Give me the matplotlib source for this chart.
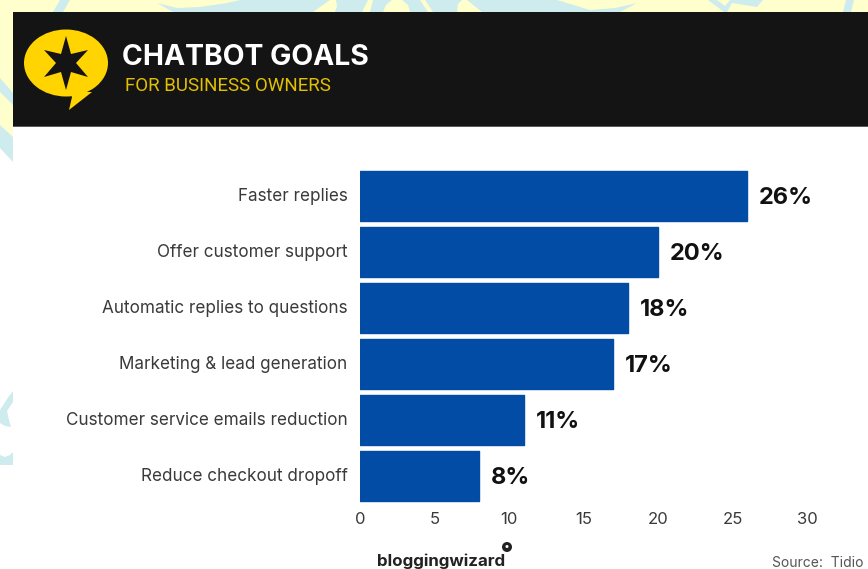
import matplotlib
matplotlib.use("Agg")
import matplotlib.pyplot as plt
from matplotlib.patches import Ellipse, Polygon, Rectangle, Circle
from matplotlib.transforms import ScaledTranslation

categorias = [
    "Faster replies",
    "Offer customer support",
    "Automatic replies to questions",
    "Marketing & lead generation",
    "Customer service emails reduction",
    "Reduce checkout dropoff",
]
valores = [26, 20, 18, 17, 11, 8]
rotulos = ["26%", "20%", "18%", "17%", "11%", "8%"]
ticks_x = [0, 5, 10, 15, 20, 25, 30]

LARGURA, ALTURA = 868, 569
AZUL = "#034CA6"
AMARELO = "#FFD400"
CIANO = "#CEEBEE"
CREME = "#FFFFCE"
ESCURO = "#141414"
TEXTO = "#3A3A3A"
FONTE = ["Inter", "DejaVu Sans"]

fig = plt.figure(figsize=(LARGURA / 100, ALTURA / 100), dpi=100, facecolor="white")

# camada de fundo em coordenadas de pixel
bg = fig.add_axes([0, 0, 1, 1])
bg.set_xlim(0, LARGURA)
bg.set_ylim(ALTURA, 0)
bg.axis("off")

# faixa creme em cima e na esquerda
bg.add_patch(Rectangle((0, 0), LARGURA, 12, color=CREME, lw=0))
bg.add_patch(Polygon([(0, 0), (13, 0), (13, 137), (0, 125)], closed=True, color=CREME, lw=0))

formas_ciano = [
    [(53, 12), (60, 0), (70, 0), (63, 12)],
    [(157, 3), (173, 12), (620, 12), (637, 3), (615, 8), (590, 10), (557, 0),
     (240, 0), (227, 3), (200, 7), (177, 8)],
    [(708, 0), (717, 0), (725, 6), (730, 0), (763, 0), (757, 7), (732, 3), (727, 12), (724, 12)],
    [(843, 12), (846, 0), (854, 0), (851, 12)],
    [(0, 78), (13, 93), (13, 105), (0, 92)],
    [(0, 125), (13, 137), (13, 162), (0, 148)],
    [(13, 391), (7, 399), (0, 410), (0, 423), (5, 426), (11, 427), (9, 420), (7, 411), (13, 402)],
    [(0, 455), (5, 457), (10, 455), (13, 452), (13, 465), (0, 465)],
]
for forma in formas_ciano:
    bg.add_patch(Polygon(forma, closed=True, color=CIANO, lw=0))

# recortes creme por cima do ciano
formas_creme = [
    [(313, 12), (330, 0), (336, 0), (337, 6), (335, 12)],
    [(362, 12), (368, 0), (373, 0), (370, 12)],
    [(383, 12), (386, 5), (392, 0), (402, 0), (408, 5), (410, 12)],
    [(420, 0), (425, 0), (433, 12), (428, 12)],
    [(457, 12), (458, 4), (462, 0), (467, 0), (482, 12)],
]
for forma in formas_creme:
    bg.add_patch(Polygon(forma, closed=True, color=CREME, lw=0))

# cabecalho
bg.add_patch(Rectangle((13, 12), LARGURA - 13, 114, color=ESCURO, lw=0))
bg.add_patch(Rectangle((13, 126), LARGURA - 13, 1, color="#5A5A5A", lw=0))

# logo: balao com estrela
bg.add_patch(Ellipse((66, 63), 84, 67, color=AMARELO, lw=0))
bg.add_patch(Polygon([(70, 92), (72, 97), (69, 110), (92, 92)], closed=True, color=AMARELO, lw=0))
estrela = [
    (66, 36), (71, 54), (88, 50), (76, 63), (88, 77), (71, 72),
    (66, 90), (61, 72), (44, 77), (56, 63), (44, 50), (61, 54),
]
bg.add_patch(Polygon(estrela, closed=True, color=ESCURO, lw=0))

bg.text(122, 57, "CHATBOT GOALS", color="white", fontsize=20.4, fontweight="bold",
        family=FONTE, va="center", ha="left")
bg.text(125, 86, "FOR BUSINESS OWNERS", color="#E3C000", fontsize=13.5,
        family=["Roboto", "DejaVu Sans"], va="center", ha="left")

# grafico de barras
ax = fig.add_axes([360 / LARGURA, 1 - 504 / ALTURA, 447 / LARGURA, 336 / ALTURA])
ax.patch.set_alpha(0)
posicoes = list(range(len(categorias)))
ax.barh(posicoes, valores, height=0.89, color=AZUL, edgecolor=AZUL, linewidth=1, joinstyle="round")
ax.set_xlim(0, 30)
ax.set_ylim(len(categorias) - 0.5, -0.5)
ax.set_xticks(ticks_x)
ax.set_yticks(posicoes)
ax.set_yticklabels(categorias, fontsize=12.3, color=TEXTO, family=FONTE)
for lab in ax.get_xticklabels():
    lab.set_fontsize(12)
    lab.set_color(TEXTO)
    lab.set_family(FONTE)
ax.tick_params(axis="both", length=0)
ax.tick_params(axis="y", pad=9)
ax.tick_params(axis="x", pad=6)

# sobe um pouco os nomes das categorias
sobe = ScaledTranslation(0, 1.5 / 100, fig.dpi_scale_trans)
for lab in ax.get_yticklabels():
    lab.set_transform(lab.get_transform() + sobe)

for lado in ax.spines.values():
    lado.set_visible(False)

for pos, valor, rotulo in zip(posicoes, valores, rotulos):
    ax.annotate(rotulo, (valor, pos), xytext=(8.5, -1.5), textcoords="offset points",
                fontsize=17, fontweight="bold", color="#111111", family=FONTE,
                va="center", ha="left")

# rodape
bg.text(377, 561, "bloggingwizard", color="#222222", fontsize=12.2, fontweight="bold",
        family=FONTE, va="center", ha="left")
bg.add_patch(Circle((507, 547), 5, color="#222222", lw=0))
bg.add_patch(Circle((507, 546.5), 1.5, color="white", lw=0))
bg.text(863, 563, "Source:  Tidio", color="#555555", fontsize=10, family=FONTE,
        va="center", ha="right")

fig.savefig("out.png", dpi=100)
